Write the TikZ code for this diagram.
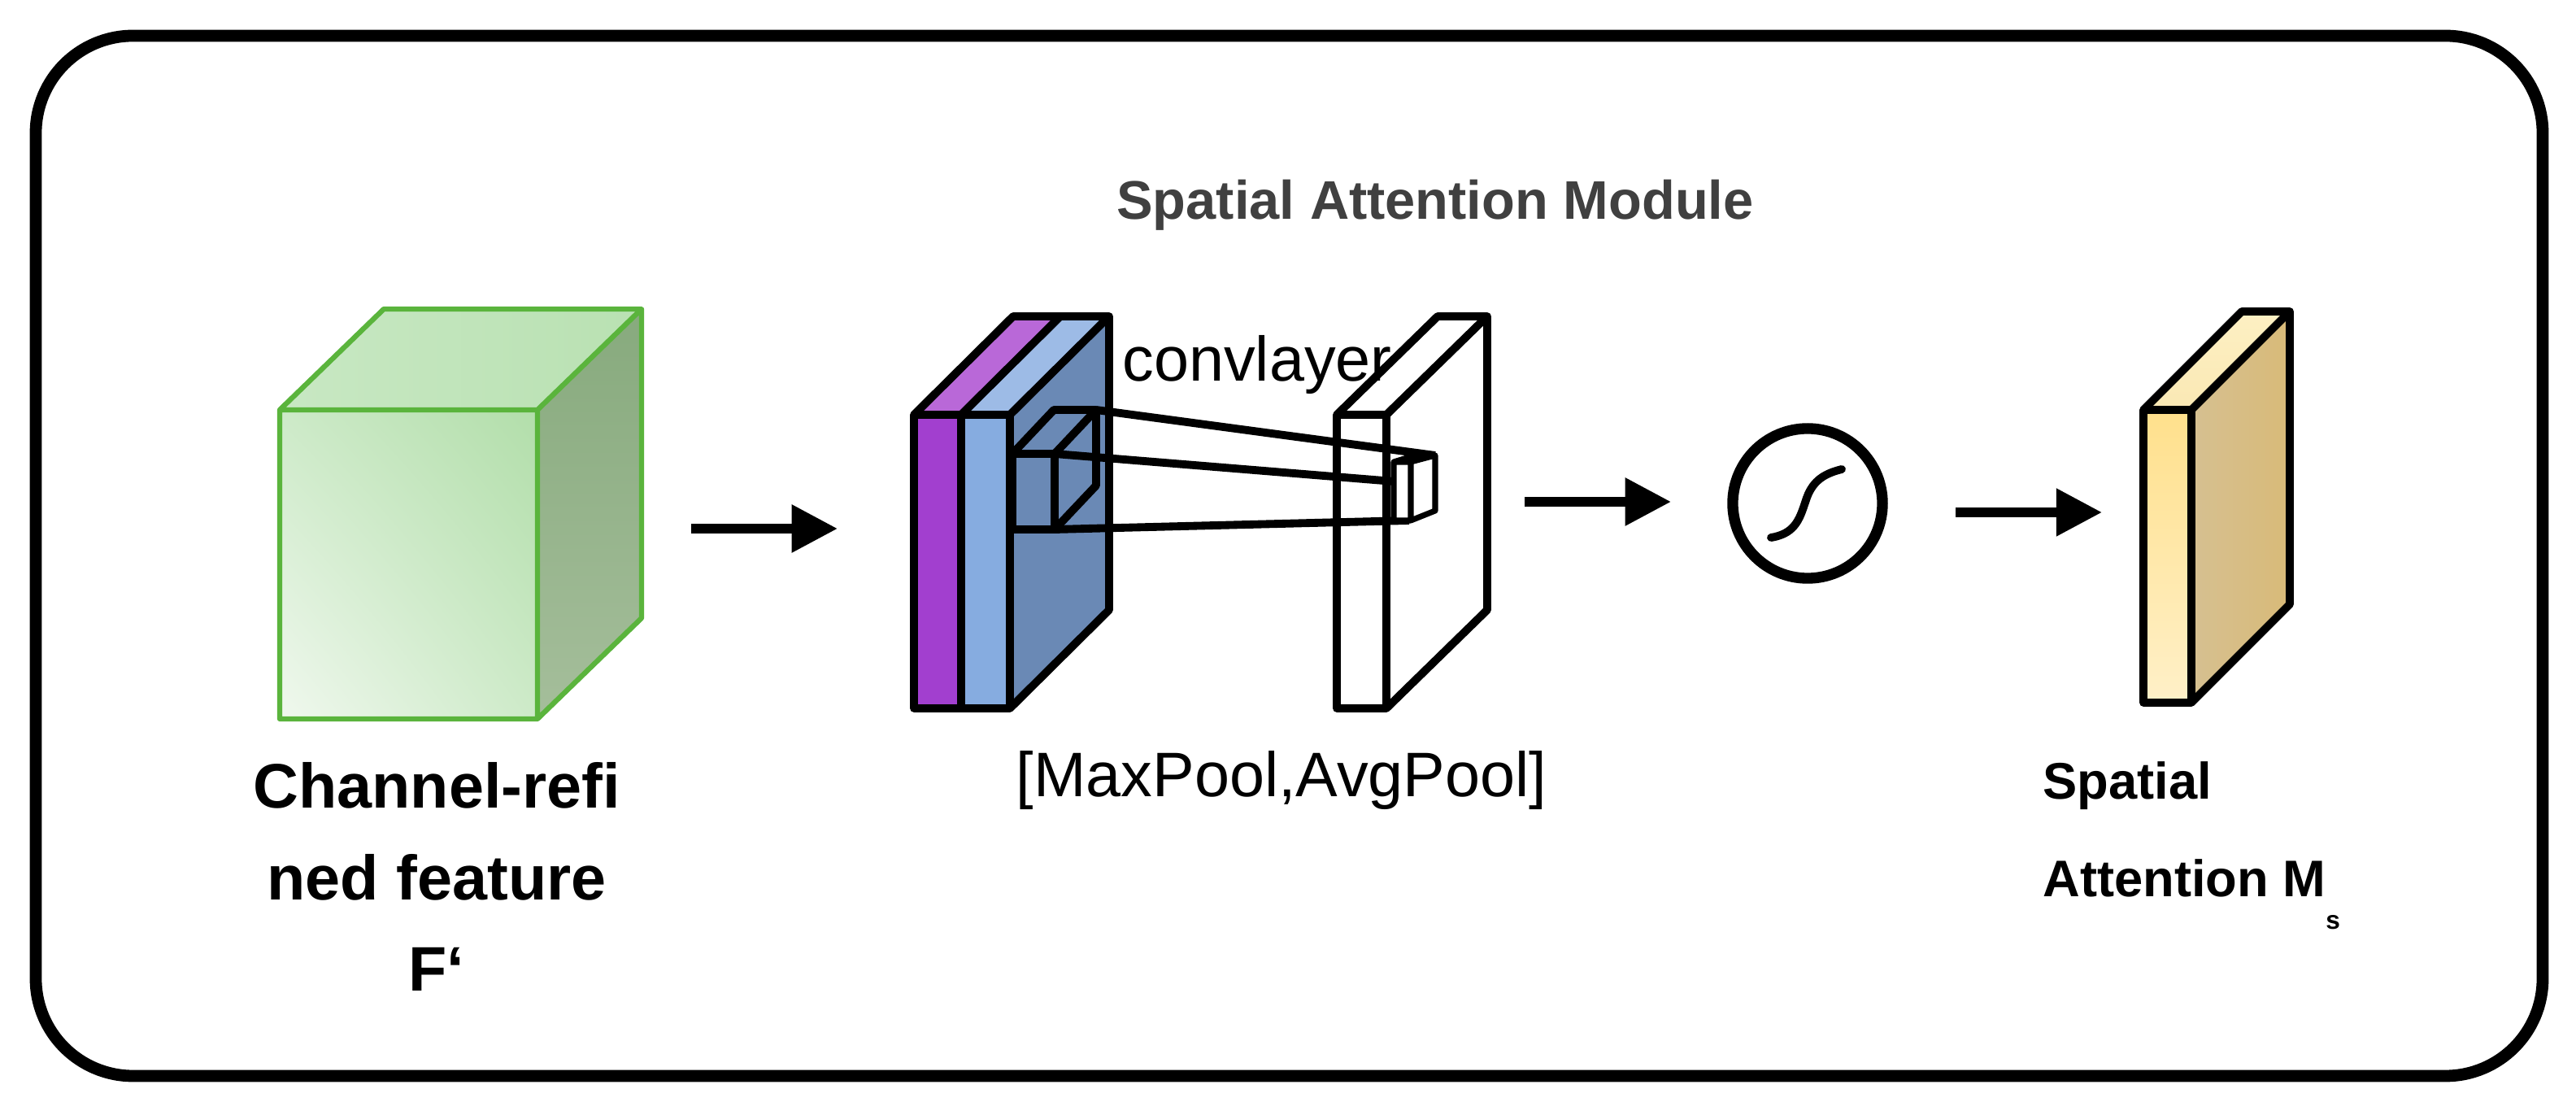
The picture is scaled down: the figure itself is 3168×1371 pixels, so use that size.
\documentclass[tikz,border=0pt]{standalone}
\usepackage{fontspec}
\setmainfont{Liberation Sans}
\usetikzlibrary{shadings,arrows.meta}
\definecolor{gLL}{RGB}{240,248,238}
\definecolor{gUR}{RGB}{178,222,170}
\definecolor{gMid}{RGB}{205,234,200}
\definecolor{gTopL}{RGB}{200,232,195}
\definecolor{gTopR}{RGB}{185,225,178}
\definecolor{gSideT}{RGB}{135,170,125}
\definecolor{gSideB}{RGB}{165,190,155}
\definecolor{gEdge}{RGB}{90,180,60}
\definecolor{cDark}{RGB}{106,137,181}
\definecolor{cPurple}{RGB}{162,63,207}
\definecolor{cPurpleT}{RGB}{185,104,216}
\definecolor{cBlue}{RGB}{134,172,224}
\definecolor{cBlueT}{RGB}{157,187,230}
\definecolor{yFT}{RGB}{255,224,140}
\definecolor{yFB}{RGB}{255,240,200}
\definecolor{yTT}{RGB}{253,240,195}
\definecolor{yTB}{RGB}{250,232,180}
\definecolor{ySL}{RGB}{214,192,145}
\definecolor{ySR}{RGB}{216,186,120}
\begin{document}
\begin{tikzpicture}[x=0.01cm,y=-0.01cm,
  blk/.style={draw=black,line width=2.8pt,line join=round},
  arr/.style={line width=3.2pt,-{Triangle[length=16pt,width=16pt]}},
  lbl/.style={font=\bfseries\fontsize{22}{32}\selectfont,align=center}]
\useasboundingbox (0,0) rectangle (3168,1371);
\fill[white] (0,0) rectangle (3168,1371);
\draw[line width=4.2pt,rounded corners=34pt] (44,44) rectangle (3127,1323);
\node[font=\bfseries\fontsize{19}{22}\selectfont,text=black!75] (title) at (1765,252) {Spatial Attention Module};
% green cube
\def\gx{344}\def\gX{661}\def\gy{504}\def\gY{884}
\shade[lower left=gLL,upper right=gUR,lower right=gMid,upper left=gMid] (\gx,\gy) rectangle (\gX,\gY);
\shade[left color=gTopL,right color=gTopR] (\gx,\gy) -- (\gx+128,\gy-124) -- (\gX+128,\gy-124) -- (\gX,\gy) -- cycle;
\shade[top color=gSideT,bottom color=gSideB] (\gX,\gy) -- (\gX+128,\gy-124) -- (\gX+128,\gY-124) -- (\gX,\gY) -- cycle;
\draw[draw=gEdge,line width=1.8pt,line join=round]
  (\gx,\gy) rectangle (\gX,\gY)
  (\gx,\gy) -- (\gx+128,\gy-124) -- (\gX+128,\gy-124) -- (\gX,\gy)
  (\gX+128,\gy-124) -- (\gX+128,\gY-124) -- (\gX,\gY);
\node[lbl] (lab1) at (537,1078) {Channel-refi\\ned feature\\F`};
% conv block
\def\dx{122}\def\dy{-121}
\fill[cDark] (1242,510) -- (1242+\dx,510+\dy) -- (1242+\dx,871+\dy) -- (1242,871) -- cycle;
\fill[cPurple] (1124,510) rectangle (1182,871);
\fill[cBlue] (1182,510) rectangle (1242,871);
\fill[cPurpleT] (1124,510) -- (1124+\dx,510+\dy) -- (1182+\dx,510+\dy) -- (1182,510) -- cycle;
\fill[cBlueT] (1182,510) -- (1182+\dx,510+\dy) -- (1242+\dx,510+\dy) -- (1242,510) -- cycle;
\draw[blk] (1124,510) rectangle (1242,871) (1182,510) -- (1182,871)
  (1124,510) -- (1124+\dx,510+\dy) -- (1242+\dx,510+\dy) -- (1242+\dx,871+\dy) -- (1242,871)
  (1182,510) -- (1182+\dx,510+\dy) (1242,510) -- (1242+\dx,510+\dy);
% small cube in block
\draw[blk] (1245,558) rectangle (1297,651) (1245,558) -- (1296,504) -- (1348,504) -- (1348,597) -- (1297,651) (1297,558) -- (1348,504);
% white slab
\draw[blk,fill=white] (1644,510) rectangle (1705,871) (1644,510) -- (1644+124,510-121) -- (1705+124,510-121) -- (1705+124,871-121) -- (1705,871) (1705,510) -- (1705+124,510-121);
\coordinate (a1) at (1348,504); \coordinate (b1) at (1765,560);
\coordinate (a2) at (1297,558); \coordinate (b2) at (1714,592);
\coordinate (a3) at (1297,651); \coordinate (b3) at (1733,640);
\draw[line width=2.8pt] (a1) -- (b1) (a2) -- (b2) (a3) -- (b3);
\draw[line width=2pt,fill=white,line join=round] (1714,568) rectangle (1735,640) (1714,568) -- (1740,560) -- (1765,560) -- (1765,628) -- (1735,640) (1735,568) -- (1765,560);
\node[font=\fontsize{22}{26}\selectfont,anchor=base] (conv) at (1546,469) {convlayer};
\node[font=\fontsize{22}{26}\selectfont] (pool) at (1576,960) {[MaxPool,AvgPool]};
% sigmoid
\node[circle,draw,line width=3.8pt,minimum size=1.84cm,inner sep=0pt] (sig) at (2223,619) {};
\draw[line width=2.8pt,line cap=round] (2178,661) .. controls (2210,656) and (2214,635) .. (2222,612) .. controls (2230,590) and (2245,582) .. (2265,577);
% yellow slab
\shade[top color=yFT,bottom color=yFB] (2636,504) rectangle (2695,864);
\shade[top color=yTT,bottom color=yTB] (2636,504) -- (2757,383) -- (2816,383) -- (2695,504) -- cycle;
\shade[left color=ySL,right color=ySR] (2695,504) -- (2816,383) -- (2816,743) -- (2695,864) -- cycle;
\draw[blk] (2636,504) rectangle (2695,864) (2636,504) -- (2757,383) -- (2816,383) -- (2816,743) -- (2695,864) (2695,504) -- (2816,383);
\node[font=\bfseries\fontsize{18}{22}\selectfont,anchor=west] (sp1) at (2500,966) {Spatial};
\node[font=\bfseries\fontsize{18}{22}\selectfont,anchor=west] (sp2) at (2500,1100) {Attention M\raisebox{-1.2ex}{\fontsize{9}{9}\selectfont s}};
% arrows
\coordinate (s1) at (850,650); \coordinate (e1) at (1030,650);
\coordinate (s2) at (1875,617); \coordinate (e2) at (2055,617);
\coordinate (s3) at (2405,630); \coordinate (e3) at (2585,630);
\draw[arr] (s1) -- (e1);
\draw[arr] (s2) -- (e2);
\draw[arr] (s3) -- (e3);
\end{tikzpicture}
\end{document}
